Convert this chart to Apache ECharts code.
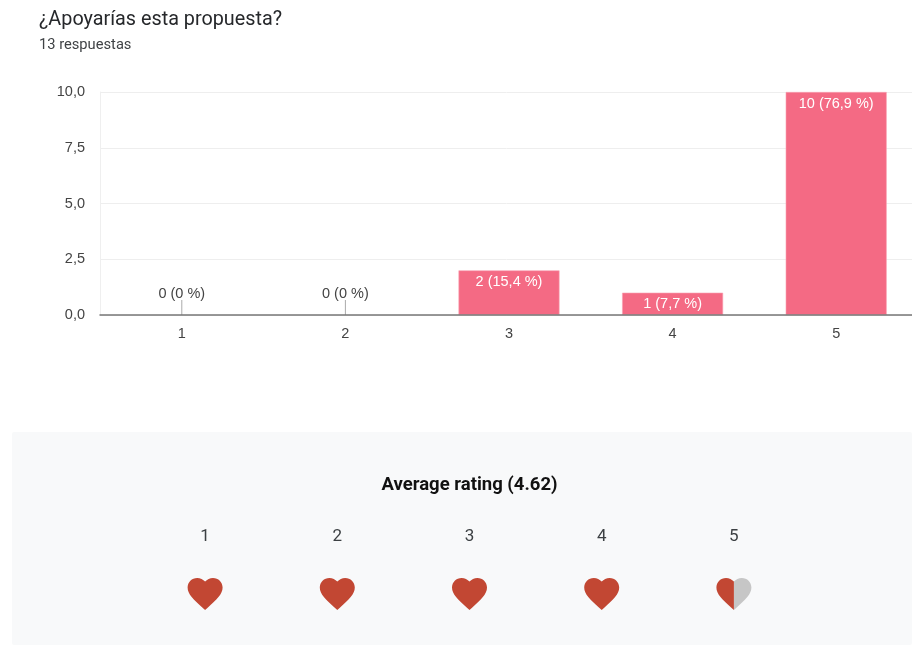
<!DOCTYPE html>
<html>
<head>
<meta charset="utf-8">
<style>html,body{margin:0;padding:0;background:#fff;overflow:hidden}#c{width:912px;height:645px}</style>
<script src="https://cdn.jsdelivr.net/npm/echarts@6/dist/echarts.min.js"></script>
</head>
<body>
<div id="c"></div>
<script>
const titleText = "¿Apoyarías esta propuesta?";
const subtitleText = "13 respuestas";
const categories = ["1", "2", "3", "4", "5"];
const counts = [0, 0, 2, 1, 10];
const valueLabels = ["0 (0 %)", "0 (0 %)", "2 (15,4 %)", "1 (7,7 %)", "10 (76,9 %)"];
const ratingTitle = "Average rating (4.62)";
const heartFill = [1, 1, 1, 1, 0.5];

const FONT = "Roboto", LABEL_FONT = "Liberation Sans";
const HEART = "M12 21.35l-1.45-1.32C5.4 15.36 2 12.28 2 8.5 2 5.42 4.42 3 7.5 3c1.74 0 3.41.81 4.5 2.09C13.09 3.81 14.76 3 16.5 3 19.58 3 22 5.42 22 8.5c0 3.78-3.4 6.86-8.55 11.54L12 21.35z";
const HEART_L = "M12 21.35l-1.45-1.32C5.4 15.36 2 12.28 2 8.5 2 5.42 4.42 3 7.5 3c1.74 0 3.41.81 4.5 2.09z";
const HEART_R = "M12 21.35V5.09C13.09 3.81 14.76 3 16.5 3 19.58 3 22 5.42 22 8.5c0 3.78-3.4 6.86-8.55 11.54z";
const RED = "#c24733", GREY = "#c6c6c6";

const chart = echarts.init(document.getElementById("c"), null, {renderer: "canvas"});
chart.setOption({
  animation: false,
  backgroundColor: "#ffffff",
  title: [
    {text: titleText, left: 34, top: 5, textStyle: {fontFamily: FONT, fontSize: 19.8, fontWeight: "normal", color: "#26282b"}},
    {text: subtitleText, left: 34, top: 33, textStyle: {fontFamily: FONT, fontSize: 14.7, fontWeight: "normal", color: "#3f4245"}},
    {text: ratingTitle, left: 464.5, textAlign: "center", top: 471, textStyle: {fontFamily: FONT, fontSize: 18.5, fontWeight: "bold", color: "#111111"}}
  ],
  graphic: [{type: "rect", z: -1, silent: true, shape: {x: 12, y: 432, width: 900, height: 213, r: 2}, style: {fill: "#f8f9fa"}}],
  grid: [
    {left: 100, top: 92, width: 818, height: 223, outerBoundsMode: "none"},
    {left: 139, top: 557, width: 661, height: 76, outerBoundsMode: "none"}
  ],
  xAxis: [
    {type: "category", gridIndex: 0, z: 5, data: categories, axisTick: {show: false},
     axisLine: {lineStyle: {color: "#777777", width: 1.5}},
     axisLabel: {fontFamily: LABEL_FONT, fontSize: 14.5, color: "#444444", margin: 11}},
    {type: "category", gridIndex: 1, position: "top", data: categories, axisTick: {show: false}, axisLine: {show: false},
     axisLabel: {fontFamily: FONT, fontSize: 17, color: "#3c4043", margin: 12}}
  ],
  yAxis: [
    {type: "value", gridIndex: 0, min: 0, max: 10, interval: 2.5,
     axisLine: {show: true, lineStyle: {color: "#efefef"}}, axisTick: {show: false},
     splitLine: {lineStyle: {color: "#eeeeee"}},
     axisLabel: {fontFamily: LABEL_FONT, fontSize: 14.5, color: "#444444", margin: 15, padding: [2, 0, 0, 0], formatter: v => v.toFixed(1).replace(".", ",")}},
    {type: "value", gridIndex: 1, min: 0, max: 1, show: false}
  ],
  series: [
    {type: "bar", xAxisIndex: 0, yAxisIndex: 0, barWidth: 101, z: 3,
     data: counts.map((v, i) => v > 0 ? {value: v, label: {show: true, formatter: valueLabels[i]}} : null),
     itemStyle: {color: "#f46a84", borderColor: "#f9a3b3", borderWidth: 0.6},
     label: {position: "insideTop", distance: 4, fontFamily: LABEL_FONT, fontSize: 14.5, color: "#ffffff"}},
    {type: "custom", xAxisIndex: 0, yAxisIndex: 0, z: 4, silent: true,
     data: counts.map((v, i) => [i, v]).filter(d => d[1] === 0),
     encode: {x: 0, y: 1},
     renderItem(params, api) {
       const p = api.coord([api.value(0), 0]);
       return {type: "group", children: [
         {type: "line", shape: {x1: p[0], y1: p[1], x2: p[0], y2: p[1] - 15}, style: {stroke: "#aaaaaa", lineWidth: 1}},
         {type: "text", style: {x: p[0], y: p[1] - 21, text: valueLabels[api.value(0)], align: "center", verticalAlign: "middle", fontFamily: LABEL_FONT, fontSize: 14.5, fill: "#444444"}}
       ]};
     }},
    {type: "custom", xAxisIndex: 1, yAxisIndex: 1, silent: true,
     data: heartFill.map((f, i) => [i, 0.5, f]),
     encode: {x: 0, y: 1},
     renderItem(params, api) {
       const p = api.coord([api.value(0), api.value(1)]);
       const W = 35, H = 33, x = p[0] - W / 2, y = p[1] - H / 2 - 1;
       const full = api.value(2) >= 1;
       const mk = (d, fill, xx, w) => ({type: "path", shape: {pathData: d, x: xx, y: y, width: w, height: H}, style: {fill}});
       return {type: "group", children: full
         ? [mk(HEART, RED, x, W)]
         : [mk(HEART_R, GREY, p[0], W / 2), mk(HEART_L, RED, x, W / 2)]};
     }}
  ]
});
</script>
</body>
</html>
